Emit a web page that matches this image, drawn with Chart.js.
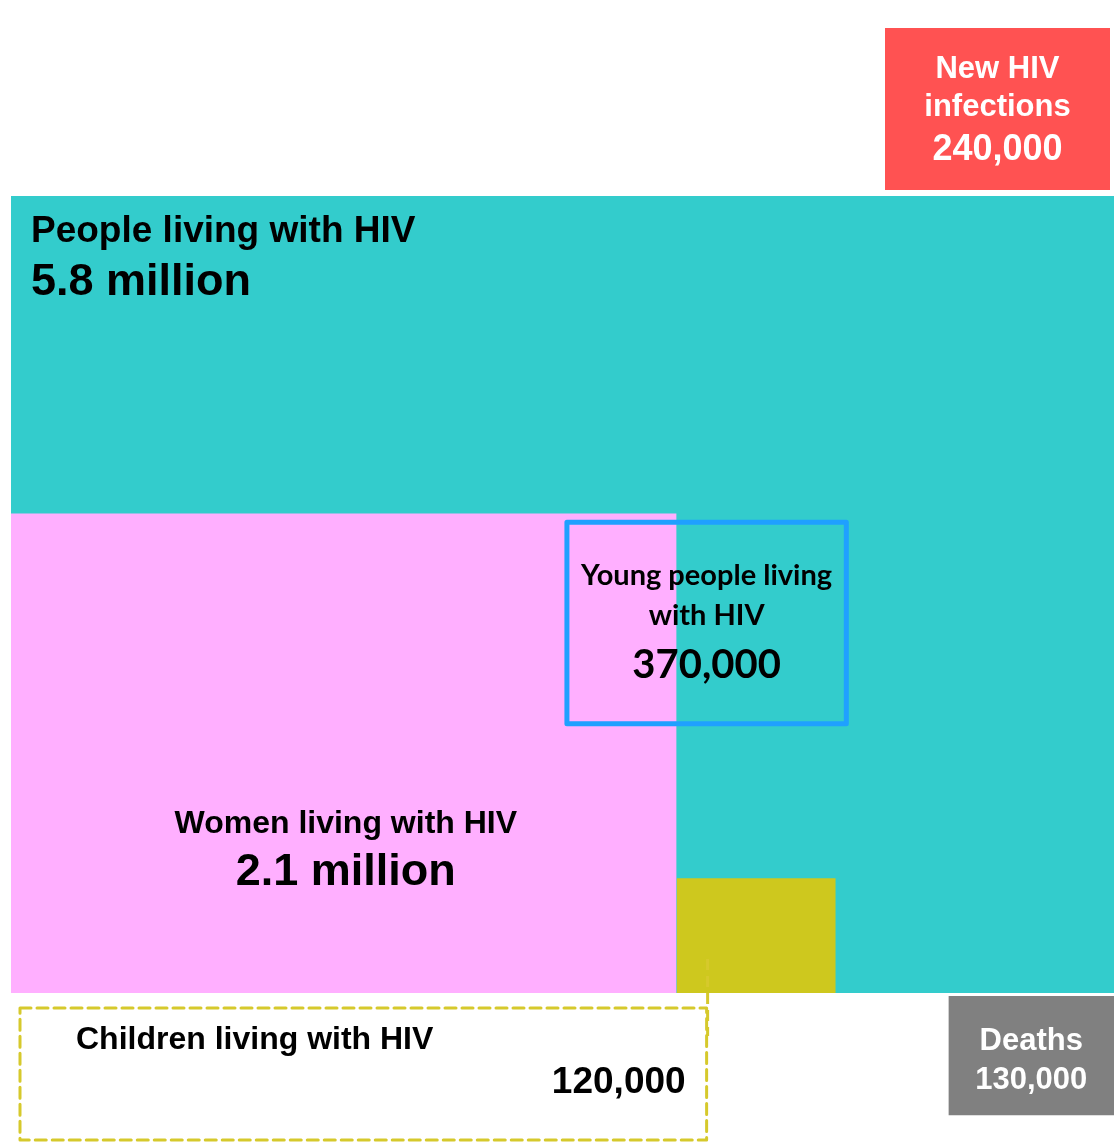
<!DOCTYPE html>
<html>
<head>
<title>HIV at a glance</title>
<style>
  body { margin: 0; background: #ffffff; }
  #wrap { width: 1114px; height: 1145px; }
</style>
</head>
<body>
<div id="wrap"><canvas id="myChart" width="1114" height="1145"></canvas></div>
<script src="https://cdn.jsdelivr.net/npm/chart.js@4.4.0/dist/chart.umd.min.js"></script>
<script>

// groups and their headcounts
var groups = ['People living with HIV', 'Women living with HIV', 'Young people living with HIV',
              'Children living with HIV', 'New HIV infections', 'Deaths'];
var counts = [5800000, 2100000, 370000, 120000, 240000, 130000];

// every box has the same shape, its area goes with the headcount
var DENSITY = 0.152;   // square units per person
var ASPECT = 1.388;    // width / height

function fmt(n) {
    if (n >= 1000000) return (n / 1000000).toFixed(1) + ' million';
    return n.toLocaleString('en-US');
}

function place(n, a) {
    var h = Math.sqrt(n * DENSITY / ASPECT), w = h * ASPECT, b = {};
    if (a.left !== undefined) { b.left = a.left; b.right = a.left + w; }
    else if (a.right !== undefined) { b.right = a.right; b.left = a.right - w; }
    else { b.left = a.cx - w / 2; b.right = a.cx + w / 2; }
    if (a.top !== undefined) { b.top = a.top; b.bottom = a.top + h; }
    else if (a.bottom !== undefined) { b.bottom = a.bottom; b.top = a.bottom - h; }
    else { b.top = a.cy - h / 2; b.bottom = a.cy + h / 2; }
    b.cx = (b.left + b.right) / 2;
    b.cy = (b.top + b.bottom) / 2;
    return b;
}

var people = place(counts[0], {left: 11, bottom: 993});
var women = place(counts[1], {left: people.left, bottom: people.bottom});
var kids = place(counts[3], {left: women.right, bottom: people.bottom});
var young = place(counts[2], {cx: women.right + 30, cy: 623});
var newInf = place(counts[4], {right: 1110, bottom: people.top - 6});
var deaths = place(counts[5], {right: 1114, top: people.bottom + 3});

// dashed frame holding the children caption, hung under the small square
var kidsFrame = {left: people.left + 9, right: kids.left + 30, top: people.bottom + 15, bottom: people.bottom + 147};

function fillBox(b, colour, order) {
    return {
        data: [{x: b.left, y: b.top}, {x: b.right, y: b.top}],
        fill: {value: b.bottom},
        backgroundColor: colour,
        borderColor: 'rgba(0,0,0,0)',
        borderWidth: 0,
        pointRadius: 0,
        order: order
    };
}

function outlineBox(b, colour, width, dash, order) {
    return {
        data: [{x: b.left, y: b.top}, {x: b.right, y: b.top}, {x: b.right, y: b.bottom},
               {x: b.left, y: b.bottom}, {x: b.left, y: b.top}],
        fill: false,
        borderColor: colour,
        borderWidth: width,
        borderDash: dash,
        borderCapStyle: 'round',
        borderJoinStyle: 'round',
        pointRadius: 0,
        order: order
    };
}

var datasets = [
    fillBox(people, '#33cccc', 10),
    fillBox(women, '#ffafff', 9),
    fillBox(kids, '#cec81e', 8),
    outlineBox(young, '#1fa0ff', 5, [], 7),
    fillBox(newInf, '#ff5252', 6),
    fillBox(deaths, '#808080', 5),
    outlineBox(kidsFrame, '#d6c92c', 3, [11, 6], 4),
    {
        data: [{x: kidsFrame.right + 1, y: kids.bottom - 34}, {x: kidsFrame.right + 1, y: kidsFrame.top + 28}],
        fill: false, borderColor: '#d6c92c', borderWidth: 3, borderDash: [11, 6],
        pointRadius: 0, order: 3
    }
];

var ARIAL = '"Liberation Sans", Arial, sans-serif';
var LATO = 'Lato, sans-serif';
var texts = [
    {text: groups[0], x: people.left + 20, y: people.top + 46, font: 'bold 37px ' + ARIAL, align: 'left', colour: '#000'},
    {text: fmt(counts[0]), x: people.left + 20, y: people.top + 99, font: 'bold 45px ' + ARIAL, align: 'left', colour: '#000'},
    {text: groups[1], x: women.cx + 2, y: women.bottom - 160, font: 'bold 32px ' + ARIAL, align: 'center', colour: '#000'},
    {text: fmt(counts[1]), x: women.cx + 2, y: women.bottom - 108, font: 'bold 45px ' + ARIAL, align: 'center', colour: '#000'},
    {text: 'Young people living', x: young.cx, y: young.cy - 38, font: 'bold 29px ' + LATO, align: 'center', colour: '#000'},
    {text: 'with HIV', x: young.cx, y: young.cy + 2, font: 'bold 29px ' + LATO, align: 'center', colour: '#000'},
    {text: fmt(counts[2]), x: young.cx, y: young.cy + 55, font: 'bold 40px ' + LATO, align: 'center', colour: '#000'},
    {text: groups[3], x: kidsFrame.left + 56, y: kidsFrame.top + 41, font: 'bold 32px ' + ARIAL, align: 'left', colour: '#000'},
    {text: fmt(counts[3]), x: kidsFrame.right - 21, y: kidsFrame.top + 85, font: 'bold 37px ' + ARIAL, align: 'right', colour: '#000'},
    {text: 'New HIV', x: newInf.cx, y: newInf.cy - 31, font: 'bold 31px ' + ARIAL, align: 'center', colour: '#fff'},
    {text: 'infections', x: newInf.cx, y: newInf.cy + 7, font: 'bold 31px ' + ARIAL, align: 'center', colour: '#fff'},
    {text: fmt(counts[4]), x: newInf.cx, y: newInf.cy + 51, font: 'bold 36px ' + ARIAL, align: 'center', colour: '#fff'},
    {text: groups[5], x: deaths.cx, y: deaths.cy - 6, font: 'bold 31px ' + ARIAL, align: 'center', colour: '#fff'},
    {text: fmt(counts[5]), x: deaths.cx, y: deaths.cy + 33, font: 'bold 31px ' + ARIAL, align: 'center', colour: '#fff'}
];

// captions are written after the boxes, placed through the scales
var boxText = {
    id: 'boxText',
    afterDatasetsDraw: function(chart) {
        var ctx = chart.ctx, sx = chart.scales.x, sy = chart.scales.y;
        ctx.save();
        ctx.textBaseline = 'alphabetic';
        texts.forEach(function(t) {
            ctx.font = t.font;
            ctx.fillStyle = t.colour;
            ctx.textAlign = t.align;
            ctx.fillText(t.text, sx.getPixelForValue(t.x), sy.getPixelForValue(t.y));
        });
        ctx.restore();
    }
};

var config = {
    type: 'line',
    data: {datasets: datasets},
    options: {
        responsive: false,
        devicePixelRatio: 1,
        animation: false,
        events: [],
        layout: {padding: 0},
        scales: {
            x: {type: 'linear', min: 0, max: 1114, display: false},
            y: {type: 'linear', min: 0, max: 1145, reverse: true, display: false}
        },
        plugins: {
            legend: {display: false},
            tooltip: {enabled: false}
        }
    },
    plugins: [boxText]
};

var ctx = document.getElementById('myChart').getContext('2d');
window.myChart = new Chart(ctx, config);

</script>
</body>
</html>
